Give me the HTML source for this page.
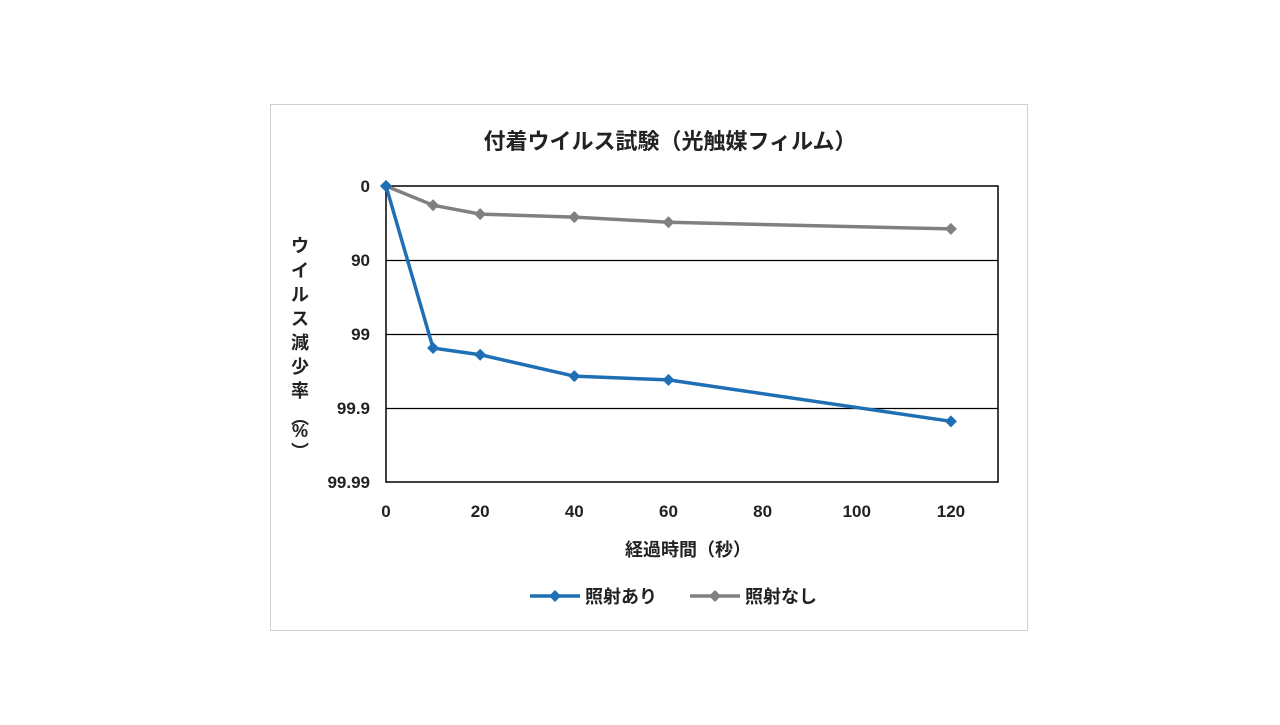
<!DOCTYPE html>
<html><head><meta charset="utf-8"><style>
body{margin:0;background:#fff;width:1280px;height:720px;overflow:hidden;font-family:"Liberation Sans","Noto Sans CJK JP",sans-serif}
</style></head><body>
<svg id="chart" width="1280" height="720" xmlns="http://www.w3.org/2000/svg" font-family="Liberation Sans, Noto Sans CJK JP, sans-serif">
<rect x="270.5" y="104.5" width="757" height="526" fill="#fff" stroke="#d0d0d0"/>
<text x="670" y="149" text-anchor="middle" font-size="22" font-weight="bold" fill="#222">付着ウイルス試験（光触媒フィルム）</text>
<g id="grid"></g><g id="axes"></g><g id="series"></g>
<text font-size="18" font-weight="bold" fill="#222" text-anchor="middle">
<tspan x="300" y="252">ウ</tspan><tspan x="300" y="277">イ</tspan><tspan x="300" y="301">ル</tspan><tspan x="300" y="325">ス</tspan><tspan x="300" y="349">減</tspan><tspan x="300" y="373">少</tspan><tspan x="300" y="397">率</tspan><tspan x="300" y="424">︵</tspan><tspan x="300" y="437">%</tspan><tspan x="300" y="458">︶</tspan></text>
<text x="688" y="556" text-anchor="middle" font-size="18" font-weight="bold" fill="#222">経過時間（秒）</text>
<g>
<line x1="530" y1="596" x2="580" y2="596" stroke="#1f6fb4" stroke-width="3.5"/>
<path d="M555 590 L561 596 L555 602 L549 596Z" fill="#1f6fb4"/>
<text x="585" y="603" font-size="18" font-weight="bold" fill="#222">照射あり</text></g>
<g>
<line x1="690" y1="596" x2="740" y2="596" stroke="#808080" stroke-width="3.5"/>
<path d="M715 590 L721 596 L715 602 L709 596Z" fill="#808080"/>
<text x="745" y="603" font-size="18" font-weight="bold" fill="#222">照射なし</text></g>
</svg>
<script>
const times=[0,10,20,40,60,120];
const irradiated=[0,2.19,2.28,2.57,2.62,3.18];
const notIrradiated=[0,0.26,0.38,0.42,0.49,0.58];
const yTickLabels=["0","90","99","99.9","99.99"];
const xTicks=[0,20,40,60,80,100,120];
const NS="http://www.w3.org/2000/svg";
const X0=386,X1=998,Y0=186,Y1=482,XMAX=130,YMAX=4;
const sx=v=>X0+(X1-X0)*v/XMAX, sy=v=>Y0+(Y1-Y0)*v/YMAX;
function mk(tag,attrs,parent,txt){const e=document.createElementNS(NS,tag);for(const k in attrs)e.setAttribute(k,attrs[k]);if(txt!==undefined)e.textContent=txt;document.getElementById(parent).appendChild(e);return e;}
yTickLabels.forEach((l,i)=>{
 if(i>0&&i<yTickLabels.length-1){const g=mk('line',{x1:X0,x2:X1,y1:sy(i)+0.5,y2:sy(i)+0.5,stroke:'#000','stroke-width':1.2},'grid');
 
 }
 const t=mk('text',{x:370,y:sy(i)+6,'text-anchor':'end','font-size':17,'font-weight':'bold',fill:'#222'},'axes',l);
 
 
});
xTicks.forEach(v=>{const t=mk('text',{x:sx(v),y:517,'text-anchor':'middle','font-size':17,'font-weight':'bold',fill:'#222'},'axes',String(v));
 
 });
const pa=mk('rect',{x:X0,y:Y0,width:X1-X0,height:Y1-Y0,fill:'none',stroke:'#000','stroke-width':1.5},'axes');


function series(vals,color,name){
 const pl=mk('polyline',{points:vals.map((v,i)=>sx(times[i])+','+sy(v)).join(' '),fill:'none',stroke:color,'stroke-width':3.5},'series');
 
 
 vals.forEach((v,i)=>{const x=sx(times[i]),y=sy(v);
  const m=mk('path',{d:`M${x} ${y-6}L${x+6} ${y}L${x} ${y+6}L${x-6} ${y}Z`,fill:color},'series');
  
  });
}
series(notIrradiated,'#808080','not-irradiated');
series(irradiated,'#1f6fb4','irradiated');
</script>
</body></html>
